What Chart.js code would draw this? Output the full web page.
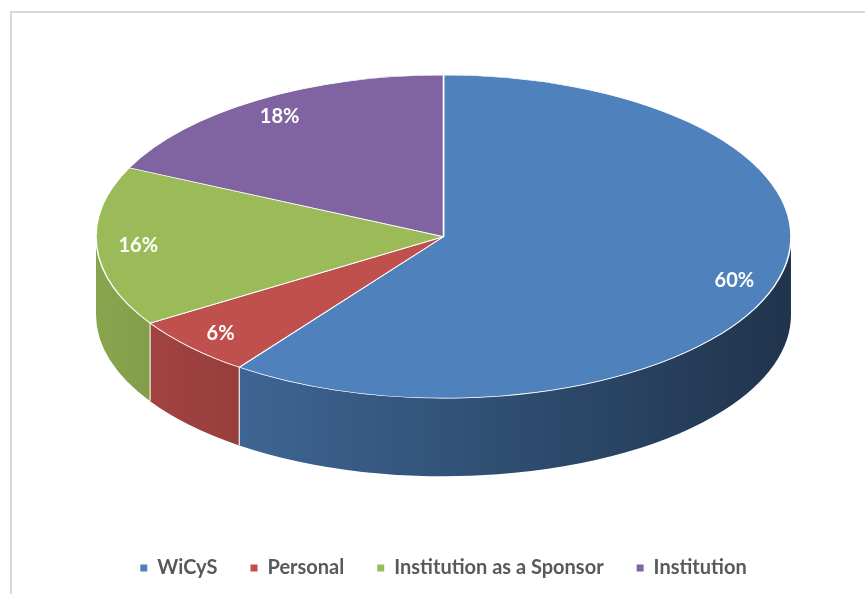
<!DOCTYPE html>
<html><head><meta charset="utf-8">
<script src="https://cdn.jsdelivr.net/npm/chart.js@4/dist/chart.umd.min.js"></script>
<style>html,body{margin:0;padding:0;background:#fff;}</style>
</head><body>
<canvas id="c" width="865" height="594"></canvas>
<script>
const categories = ['WiCyS', 'Personal', 'Institution as a Sponsor', 'Institution'];
const shares = [60, 6, 16, 18];
const percentLabels = ['60%', '6%', '16%', '18%'];
const sliceColors = ['#4f81bd', '#c0504d', '#9bbb59', '#8064a2'];

const TILT = 0.465;   // vertical / horizontal radius of the tilted pie
const DEPTH = 0.225;  // wall height relative to horizontal radius
const LABEL_R = 0.88;

function shade(hex, f) {
  const n = parseInt(hex.slice(1), 16);
  const r = (n >> 16) & 255, g = (n >> 8) & 255, b = n & 255;
  return 'rgb(' + Math.round(r * f) + ',' + Math.round(g * f) + ',' + Math.round(b * f) + ')';
}

function geom(chart) {
  const a = chart.chartArea;
  const rx = (a.right - a.left) / 2;
  const ry = rx * TILT;
  return { cx: (a.left + a.right) / 2, cy: a.top + ry, rx: rx, ry: ry, d: rx * DEPTH };
}

const pie3d = {
  id: 'pie3d',
  beforeDraw(chart) {
    const ctx = chart.ctx;
    ctx.save();
    ctx.fillStyle = '#d9d9d9';
    ctx.fillRect(10, 11, 2, chart.height - 11);
    ctx.fillRect(10, 11, chart.width - 10, 2);
    ctx.restore();
  },
  beforeDatasetsDraw(chart) {
    const ctx = chart.ctx;
    const g = geom(chart);
    const meta = chart.getDatasetMeta(0);
    meta.data.forEach((arc, i) => {
      const s = Math.max(arc.startAngle, 0), e = Math.min(arc.endAngle, Math.PI);
      if (e <= s) return;
      const c = sliceColors[i];
      const grad = ctx.createLinearGradient(g.cx - g.rx, 0, g.cx + g.rx, 0);
      grad.addColorStop(0, shade(c, 0.88));
      grad.addColorStop(1, shade(c, 0.40));
      ctx.beginPath();
      ctx.ellipse(g.cx, g.cy, g.rx, g.ry, 0, s, e, false);
      ctx.lineTo(g.cx + g.rx * Math.cos(e), g.cy + g.d + g.ry * Math.sin(e));
      ctx.ellipse(g.cx, g.cy + g.d, g.rx, g.ry, 0, e, s, true);
      ctx.closePath();
      ctx.fillStyle = grad;
      ctx.fill();
    });
    ctx.save();
    ctx.strokeStyle = 'rgba(255,255,255,0.85)';
    ctx.lineWidth = 1.2;
    meta.data.forEach((arc) => {
      const a = arc.startAngle;
      if (a > 0 && a < Math.PI) {
        const x = g.cx + g.rx * Math.cos(a), y = g.cy + g.ry * Math.sin(a);
        ctx.beginPath();
        ctx.moveTo(x, y);
        ctx.lineTo(x, y + g.d);
        ctx.stroke();
      }
    });
    ctx.restore();
    const arc0 = meta.data[0];
    const r = arc0.outerRadius;
    ctx.save();
    ctx.translate(g.cx, g.cy);
    ctx.scale(g.rx / r, g.ry / r);
    ctx.translate(-arc0.x, -arc0.y);
  },
  afterDatasetsDraw(chart) {
    const ctx = chart.ctx;
    ctx.restore();
    const g = geom(chart);
    const meta = chart.getDatasetMeta(0);
    ctx.save();
    ctx.fillStyle = '#ffffff';
    ctx.font = 'bold 20px Lato';
    ctx.textAlign = 'center';
    ctx.textBaseline = 'middle';
    meta.data.forEach((arc, i) => {
      const m = (arc.startAngle + arc.endAngle) / 2;
      ctx.fillText(percentLabels[i], g.cx + LABEL_R * g.rx * Math.cos(m), g.cy + LABEL_R * g.ry * Math.sin(m));
    });
    ctx.restore();
  }
};

new Chart(document.getElementById('c'), {
  type: 'pie',
  data: {
    labels: categories,
    datasets: [{
      data: shares,
      backgroundColor: sliceColors,
      borderColor: '#ffffff',
      borderWidth: 1,
      hoverOffset: 0,
      clip: false
    }]
  },
  options: {
    responsive: false,
    animation: false,
    events: [],
    layout: { padding: { top: 75, left: 96, right: 74, bottom: 6 } },
    plugins: {
      tooltip: { enabled: false },
      legend: {
        position: 'bottom',
        labels: {
          boxWidth: 7,
          boxHeight: 7,
          padding: 33,
          color: '#595959',
          font: { family: 'Lato', size: 20, weight: 'bold' },
          generateLabels(chart) {
            const items = Chart.overrides.pie.plugins.legend.labels.generateLabels(chart);
            return items.map(it => Object.assign({}, it, { lineWidth: 0, strokeStyle: it.fillStyle }));
          }
        }
      }
    }
  },
  plugins: [pie3d]
});
</script>
</body></html>
